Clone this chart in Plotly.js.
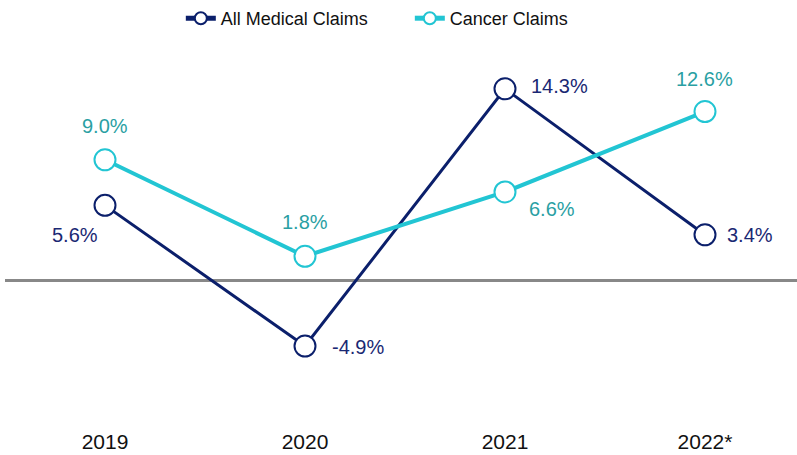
<!DOCTYPE html>
<html>
<head>
<meta charset="utf-8">
<script src="https://cdn.plot.ly/plotly-3.0.1.min.js"></script>
<style>html,body{margin:0;padding:0;background:#fff;}#chart{width:797px;height:455px;}</style>
</head>
<body>
<div id="chart"></div>
<script>
const years = ["2019", "2020", "2021", "2022*"];
const allMedical = [5.6, -4.9, 14.3, 3.4];
const cancer = [9.0, 1.8, 6.6, 12.6];

// label placement (style only): [xanchor, xshift, yshift]
const allMedicalLabelPos = [["center", -30, -30], ["left", 25, -1], ["left", 24, 3], ["left", 20, 0]];
const cancerLabelPos = [["center", 0, 34], ["center", 0, 34], ["center", 47, -17], ["center", -1, 33]];

const navy = "#0b1f6b";
const cyan = "#22c5d3";
const navyText = "#1a2873";
const cyanText = "#2a9fa3";
const fmt = v => v.toFixed(1) + "%";
const FONT = "Liberation Sans, Arial, sans-serif";

const traces = [
  {
    x: years, y: allMedical, name: "All Medical Claims", type: "scatter",
    mode: "lines+markers",
    line: {color: navy, width: 3},
    marker: {size: 21, color: "#ffffff", line: {color: navy, width: 2}},
    cliponaxis: false, hoverinfo: "skip"
  },
  {
    x: years, y: cancer, name: "Cancer Claims", type: "scatter",
    mode: "lines+markers",
    line: {color: cyan, width: 4},
    marker: {size: 21, color: "#ffffff", line: {color: cyan, width: 2}},
    cliponaxis: false, hoverinfo: "skip"
  }
];

// annotations on a category axis: x is the category index
function labels(vals, pos, color) {
  return vals.map((v, i) => ({
    x: i, y: v, xref: "x", yref: "y", text: fmt(v), showarrow: false,
    xanchor: pos[i][0], yanchor: "middle", xshift: pos[i][1], yshift: pos[i][2],
    font: {family: FONT, size: 20, color: color}
  }));
}

const layout = {
  width: 797, height: 455,
  margin: {l: 5, r: 0, t: 40, b: 40},
  paper_bgcolor: "#ffffff", plot_bgcolor: "#ffffff",
  font: {family: FONT, color: "#111"},
  showlegend: true,
  legend: {orientation: "h", x: 0.222, xanchor: "left", y: 1.01, yanchor: "bottom",
           font: {size: 18, color: "#111"}, itemsizing: "constant", entrywidth: 184},
  xaxis: {type: "category", range: [-0.5, 3.46], showgrid: false, zeroline: false,
          showline: false, ticks: "", tickfont: {size: 21, color: "#111"}, ticklabelstandoff: 12},
  yaxis: {range: [-10.05, 17.87], showgrid: false, showticklabels: false,
          zeroline: true, zerolinecolor: "#888888", zerolinewidth: 3, showline: false, ticks: ""},
  annotations: labels(allMedical, allMedicalLabelPos, navyText).concat(labels(cancer, cancerLabelPos, cyanText))
};

Plotly.newPlot("chart", traces, layout, {displayModeBar: false, staticPlot: true});
</script>
</body>
</html>
